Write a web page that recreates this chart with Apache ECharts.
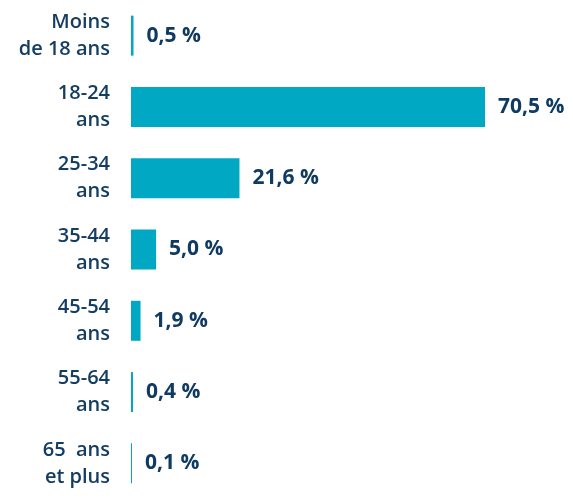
<!DOCTYPE html>
<html>
<head>
<meta charset="utf-8">
<script src="https://cdn.jsdelivr.net/npm/echarts@6/dist/echarts.min.js"></script>
<style>
  html, body { margin: 0; padding: 0; background: #fff; }
  #chart { width: 573px; height: 499px; }
</style>
</head>
<body>
<div id="chart"></div>
<script>
var categories = ['Moins\nde 18 ans', '18-24\nans', '25-34\nans', '35-44\nans', '45-54\nans', '55-64\nans', '65  ans\net plus'];
var values = [0.5, 70.5, 21.6, 5.0, 1.9, 0.4, 0.1];

var myChart = echarts.init(document.getElementById('chart'));

var option = {
  animation: false,
  grid: {
    left: 131,
    top: -4,
    width: 354,
    height: 512
  },
  xAxis: {
    type: 'value',
    min: 0,
    max: 70.5,
    show: false
  },
  yAxis: {
    type: 'category',
    data: categories,
    inverse: true,
    axisLine: { show: false },
    axisTick: { show: false },
    splitLine: { show: false },
    axisLabel: {
      margin: 21,
      color: '#143d63',
      fontFamily: 'Open Sans',
      fontWeight: 600,
      fontSize: 20,
      lineHeight: 27,
      align: 'right'
    }
  },
  series: [{
    type: 'bar',
    data: values,
    barWidth: 40,
    barMinHeight: 1,
    itemStyle: { color: '#00a8c4' },
    label: {
      show: true,
      position: 'right',
      distance: 13,
      color: '#0f3a62',
      fontFamily: 'Open Sans',
      fontWeight: 'bold',
      fontSize: 21,
      formatter: function (p) {
        return p.value.toFixed(1).replace('.', ',') + ' %';
      }
    }
  }]
};

myChart.setOption(option);
</script>
</body>
</html>
